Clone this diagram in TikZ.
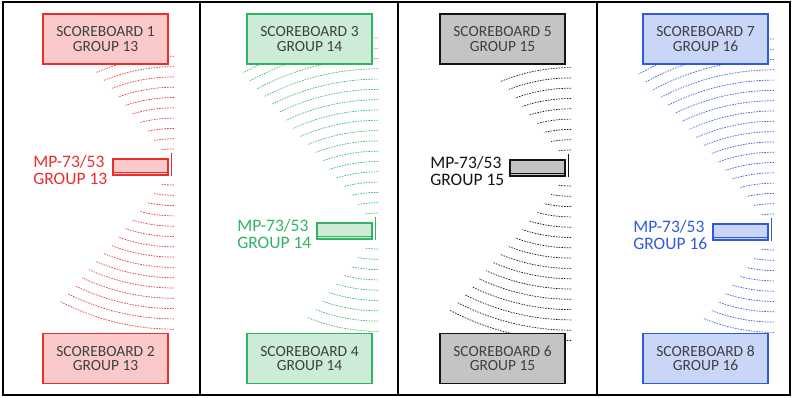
\documentclass[tikz,border=0pt]{standalone}
\usepackage{fontspec}
\setmainfont{Carlito}
\usepackage{tikz}

\definecolor{sbred}{RGB}{235,45,45}
\definecolor{sbgreen}{RGB}{50,180,100}
\definecolor{sbblack}{RGB}{20,20,20}
\definecolor{sbblue}{RGB}{45,90,225}

\tikzset{
  board/.style={draw=#1, fill=#1!25, line width=1.3pt, minimum width=125pt,
    minimum height=50pt, align=center, text=black!75,
    font=\fontsize{15.5}{14.5}\selectfont},
  spkbox/.style={draw=#1, fill=#1!25, line width=1.1pt, minimum width=55pt,
    minimum height=16pt, inner sep=0pt},
  mplabel/.style={text=#1, align=left, inner sep=0pt,
    font=\fontsize{17.5}{17}\selectfont},
  wave/.style={#1, line width=0.7pt, dash pattern=on 1.5pt off 1.2pt},
}

\begin{document}
\begin{tikzpicture}[x=1pt, y=-1pt]
\useasboundingbox (0,0) rectangle (793,397);

\foreach \r/\yc/\col/\g/\a/\b/\nu/\nl in {168/167/sbred/13/1/2/9/14,
    372/231/sbgreen/14/3/4/17/8, 565/168/sbblack/15/5/6/8/15,
    768/232/sbblue/16/7/8/17/8}{%
  % waves above and below the speaker
  \foreach \k in {0,...,\nu}{%
    \pgfmathsetmacro\dd{18+10.3*\k}
    \pgfmathsetmacro\rr{\dd+85}
    \pgfmathsetmacro\ang{asin(0.7*\dd/\rr)}
    \draw[wave=\col] (\r+6,\yc-\dd) arc[start angle=-90, end angle=-90-\ang, radius=\rr];
  }
  \foreach \k in {0,...,\nl}{%
    \pgfmathsetmacro\dd{18+10.3*\k}
    \pgfmathsetmacro\rr{\dd+85}
    \pgfmathsetmacro\ang{asin(0.7*\dd/\rr)}
    \draw[wave=\col] (\r+6,\yc+\dd) arc[start angle=90, end angle=90+\ang, radius=\rr];
  }
  \node[board=\col] (top\g) at (\r-62.5,39) {SCOREBOARD \a\\GROUP \g};
  \node[board=\col] (bot\g) at (\r-62.5,358.5) {SCOREBOARD \b\\GROUP \g};
  \node[spkbox=\col] (spk\g) at (\r-27.5,\yc) {};
  \draw[\col, line width=1.1pt] ([yshift=3pt]spk\g.south west) -- ([yshift=3pt]spk\g.south east);
  \draw[\col, line width=1.5pt] ([xshift=3pt,yshift=5pt]spk\g.north east) -- ([xshift=3pt]spk\g.south east);
  \node[mplabel=\col, anchor=east] (lab\g) at ([xshift=-5pt,yshift=-3pt]spk\g.west) {MP-73/53\\GROUP \g};
}

% frame and dividers
\draw[line width=1.5pt] (3,2) rectangle (790,395);
\foreach \x in {200,398,597}
  \draw[line width=1.3pt] (\x,2) -- (\x,395);

\end{tikzpicture}
\end{document}
